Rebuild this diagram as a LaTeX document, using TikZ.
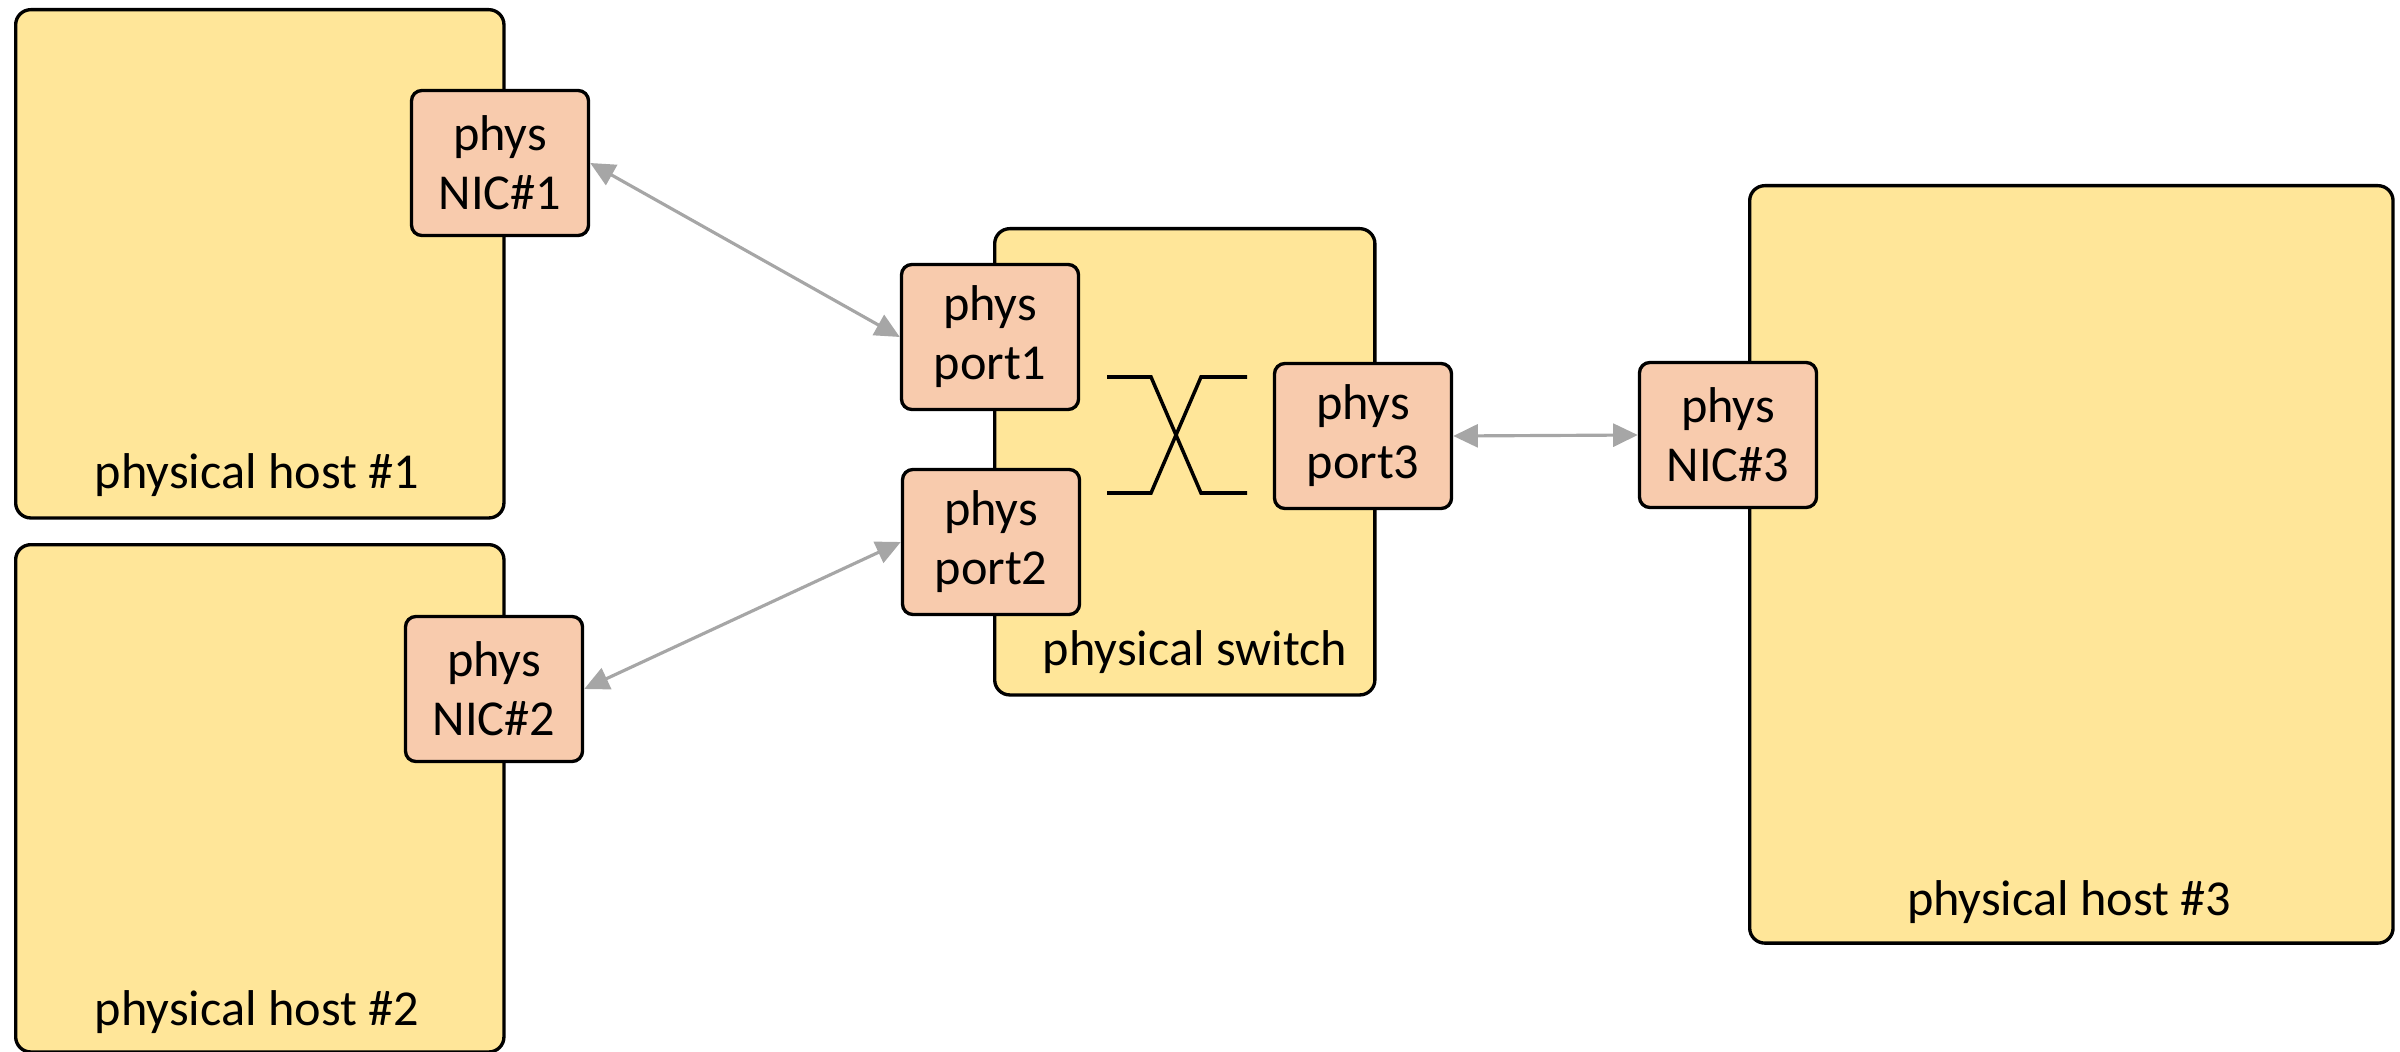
\documentclass[tikz,border=0pt]{standalone}
\usepackage{fontspec}
\setmainfont{Carlito}
\usetikzlibrary{arrows.meta}
\definecolor{hostfill}{HTML}{FFE699}
\definecolor{nicfill}{HTML}{F8CBAD}
\definecolor{linkgray}{HTML}{A6A6A6}

\begin{document}
\begin{tikzpicture}[x=0.01cm,y=-0.01cm,
  host/.style={draw=black, line width=0.95pt, rounded corners=4.3pt,
    fill=hostfill, inner sep=0pt, anchor=north west},
  nic/.style={draw=black, line width=0.95pt, rounded corners=3pt,
    fill=nicfill, inner sep=0pt, align=center,
    minimum width=1.77cm, minimum height=1.45cm,
    font=\fontsize{14.3}{16.8}\selectfont},
  lbl/.style={font=\fontsize{14.3}{16.8}\selectfont, inner sep=0pt},
  link/.style={draw=linkgray, line width=0.9pt,
    {Triangle[length=7pt,width=6.5pt]}-{Triangle[length=7pt,width=6.5pt]}},
  xover/.style={draw=black, line width=1pt}]

  \useasboundingbox (0,0) rectangle (2400,1052);

  % hosts and switch
  \node[host, minimum width=4.88cm, minimum height=5.08cm] (host1) at (14,8) {};
  \node[host, minimum width=4.88cm, minimum height=5.07cm] (host2) at (14,543) {};
  \node[host, minimum width=6.43cm, minimum height=7.57cm] (host3) at (1748,184) {};
  \node[host, minimum width=3.80cm, minimum height=4.66cm] (switch) at (993,227) {};

  \node[lbl] (host1lbl) at (257,475) {physical host \#1};
  \node[lbl] (host2lbl) at (257,1012) {physical host \#2};
  \node[lbl] (host3lbl) at (2069,902) {physical host \#3};
  \node[lbl] (switchlbl) at (1195,652) {physical switch};

  % NICs and ports
  \node[nic] (nic1) at (500,163) {phys\\NIC\#1};
  \node[nic] (nic2) at (494,689) {phys\\NIC\#2};
  \node[nic] (nic3) at (1728,435) {phys\\NIC\#3};
  \node[nic] (port1) at (990,337) {phys\\port1};
  \node[nic] (port2) at (991,542) {phys\\port2};
  \node[nic] (port3) at (1363,436) {phys\\port3};

  % crossover inside the switch
  \draw[xover] (1107,377) -- (1151,377) -- (1201,493) -- (1247,493);
  \draw[xover] (1107,493) -- (1151,493) -- (1201,377) -- (1247,377);

  % physical links
  \draw[link] (nic1.east) -- (port1.west);
  \draw[link] (nic2.east) -- (port2.west);
  \draw[link] (port3.east) -- (nic3.west);
\end{tikzpicture}
\end{document}
